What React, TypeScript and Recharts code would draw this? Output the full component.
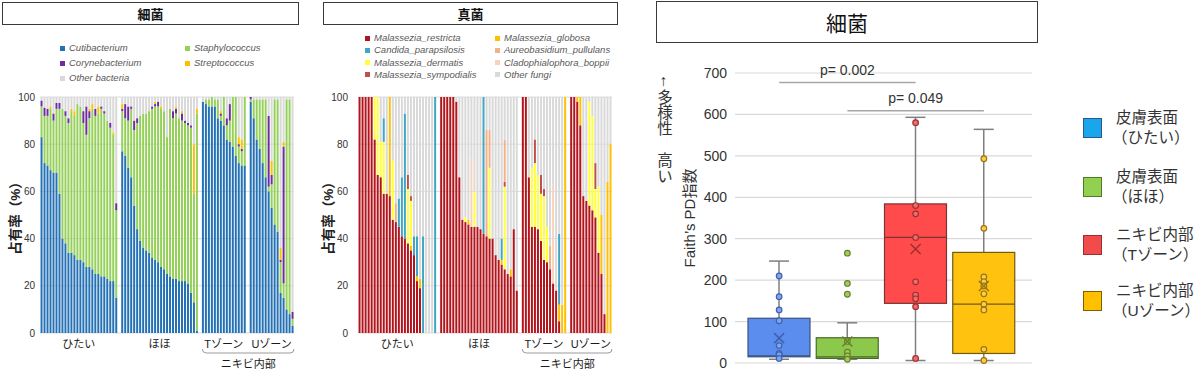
import React from "react";
import {
  Bar,
  BarChart,
  CartesianGrid,
  ComposedChart,
  Line,
  ReferenceLine,
  XAxis,
  YAxis,
} from "recharts";

const FONT = "'Liberation Sans', 'Noto Sans CJK JP', sans-serif";

const SITES = ["ひたい", "ほほ", "Tゾーン", "Uゾーン"];

// ---- bacteria composition (%), one list per site ----
const bacCutibacterium = [
  [83, 72, 71, 69, 68, 68, 59, 40, 38, 34, 34, 33, 31, 31, 30, 28, 28, 27, 25, 25, 24, 24, 23, 22, 22, 15],
  [77, 75, 70, 66, 54, 44, 39, 36, 35, 34, 32, 31, 30, 28, 27, 25, 24, 23, 23, 22, 22, 22, 21, 17, 13, 1],
  [98, 97, 96, 96, 96, 91, 90, 88, 82, 81, 79, 75, 72, 71, 71],
  [98, 91, 82, 78, 72, 66, 60, 53, 46, 43, 17, 15, 10, 8, 3],
];
const bacStaphylococcus = [
  [13, 20, 21, 26, 22, 27, 36, 55, 54, 55, 60, 59, 66, 65, 59, 56, 63, 68, 67, 68, 71, 69, 67, 65, 62, 37],
  [17, 16, 20, 29, 32, 45, 53, 57, 58, 60, 63, 65, 66, 67, 67, 58, 71, 68, 70, 69, 68, 67, 67, 70, 46, 92],
  [0, 2, 3, 4, 3, 8, 2, 12, 6, 9, 21, 25, 7, 6, 29],
  [1, 8, 17, 21, 27, 33, 2, 10, 53, 56, 13, 6, 89, 91, 3],
];
const bacCorynebacterium = [
  [2.5, 3.5, 3, 0, 3, 2.5, 2.5, 0, 2, 2, 0, 0, 0, 0, 5, 12, 3, 0, 3, 0, 1, 1, 0, 2, 0, 3],
  [1, 6, 6, 1, 4, 2, 0, 0, 0, 0, 1, 1, 2, 0, 0, 0, 0, 3, 2, 0, 3, 1, 1, 1, 0, 0],
  [0, 0, 0, 0, 0, 0, 1, 0, 3, 7, 0, 0, 1, 1, 0],
  [1, 0, 0, 0, 0, 0, 30, 4, 0, 0, 1, 58, 0, 0, 3],
];
const bacStreptococcus = [
  [0, 0, 0, 1, 0, 0, 0, 0, 0, 0, 1, 2, 0, 0, 0, 0, 1, 2, 0, 3, 0, 0, 0, 0, 1, 0],
  [2, 0, 0, 0, 0, 0, 0, 0, 0, 0, 0, 1, 0, 1, 0, 0, 0, 0, 1, 0, 1, 0, 0, 0, 21, 2],
  [0, 0, 0, 0, 0, 0, 1, 0, 0, 0, 0, 0, 3, 4, 0],
  [0, 0, 0, 0, 0, 0, 0, 6, 0, 0, 5, 2, 0, 0, 0],
];

// ---- fungi composition (%), one list per site ----
const fungRestricta = [
  [100, 100, 100, 100, 100, 82, 67, 66, 59, 59, 58, 48, 47, 45, 41, 40, 38, 35, 33, 22, 19, 0, 0, 0, 0, 0],
  [100, 100, 100, 100, 100, 98, 66, 48, 47, 46, 45, 45, 45, 44, 42, 41, 40, 40, 33, 31, 29, 27, 25, 24, 44, 18],
  [100, 100, 66, 45, 45, 44, 39, 31, 30, 27, 21, 18, 5, 0, 0],
  [100, 100, 98, 88, 58, 56, 54, 52, 49, 34, 25, 8, 0, 0],
];
const fungGlobosa = [
  [0, 0, 0, 0, 0, 0, 0, 0, 0, 0, 42, 0, 0, 0, 0, 0, 0, 2, 0, 2, 4, 0, 0, 0, 0, 0],
  [0, 0, 0, 0, 0, 0, 0, 0, 0, 2, 0, 0, 0, 0, 0, 0, 0, 0, 0, 0, 2, 0, 0, 3, 0, 0],
  [0, 0, 0, 0, 0, 0, 0, 0, 0, 0, 0, 0, 7, 12, 100],
  [0, 0, 2, 12, 0, 0, 0, 0, 0, 0, 25, 0, 64, 80],
];
const fungDermatis = [
  [0, 0, 0, 0, 0, 18, 33, 15, 22, 0, 0, 25, 0, 0, 0, 0, 23, 19, 0, 0, 0, 0, 0, 0, 0, 0],
  [0, 0, 0, 0, 0, 0, 0, 0, 2, 0, 0, 15, 0, 0, 0, 0, 30, 0, 0, 0, 0, 35, 0, 0, 0, 0],
  [0, 0, 0, 25, 27, 23, 20, 27, 15, 0, 0, 0, 0, 0, 0],
  [0, 0, 0, 0, 0, 0, 44, 40, 12, 28, 0, 0, 0, 0],
];
const fungCandida = [
  [0, 0, 0, 0, 0, 0, 0, 0, 10, 0, 0, 0, 0, 12, 25, 53, 0, 0, 8, 17, 0, 41, 0, 0, 0, 100],
  [0, 0, 0, 0, 0, 0, 0, 0, 0, 0, 0, 0, 0, 0, 58, 0, 0, 0, 0, 0, 9, 0, 0, 0, 0, 0],
  [0, 0, 0, 0, 0, 0, 0, 0, 0, 0, 0, 0, 30, 0, 0],
  [0, 0, 0, 0, 0, 0, 0, 0, 0, 0, 0, 0, 0, 0],
];
const fungSympodialis = [
  [0, 0, 0, 0, 0, 0, 0, 0, 0, 0, 0, 0, 0, 0, 0, 0, 6, 2, 0, 0, 0, 0, 0, 0, 0, 0],
  [0, 0, 0, 0, 0, 0, 0, 0, 0, 0, 0, 0, 0, 0, 0, 0, 0, 0, 0, 0, 0, 2, 0, 0, 0, 0],
  [0, 0, 0, 0, 10, 0, 8, 3, 0, 0, 0, 0, 0, 0, 0],
  [0, 0, 0, 0, 0, 0, 0, 0, 11, 0, 0, 0, 0, 0],
];
const fungAureobasidium = [
  [0, 0, 0, 0, 0, 0, 0, 0, 0, 0, 0, 0, 8, 0, 0, 0, 0, 0, 0, 0, 0, 0, 0, 0, 0, 0],
  [0, 0, 0, 0, 0, 0, 0, 0, 0, 0, 0, 0, 0, 0, 0, 45, 16, 0, 0, 0, 0, 18, 0, 0, 0, 0],
  [0, 0, 0, 0, 0, 0, 0, 0, 0, 10, 0, 0, 0, 0, 0],
  [0, 0, 0, 0, 0, 0, 0, 0, 0, 0, 0, 0, 0, 0],
];
const fungCladophialophora = [
  [0, 0, 0, 0, 0, 0, 0, 0, 0, 0, 0, 0, 0, 0, 0, 0, 0, 0, 0, 0, 0, 0, 0, 0, 0, 0],
  [0, 0, 0, 0, 0, 0, 0, 0, 0, 0, 29, 0, 0, 0, 0, 0, 0, 0, 0, 0, 0, 0, 0, 0, 0, 0],
  [0, 0, 0, 0, 0, 0, 0, 0, 0, 0, 42, 0, 0, 0, 0],
  [0, 0, 0, 0, 0, 0, 0, 0, 0, 0, 0, 0, 0, 0],
];

// ---- Faith's PD (bacteria) box plot ----
const pdGroups = ["皮膚表面（ひたい）", "皮膚表面（ほほ）", "ニキビ内部（Tゾーン）", "ニキビ内部（Uゾーン）"];
const pdMin = [9, 9, 6, 6];
const pdQ1 = [15, 11, 144, 23];
const pdMedian = [17, 15, 303, 142];
const pdQ3 = [108, 61, 384, 267];
const pdMax = [246, 97, 593, 564];
const pdMean = [60, 52, 275, 186];
const pdPoints = [
  [210, 160, 128, 102, 42, 23, 20, 11],
  [265, 192, 166, 52, 26, 17, 9],
  [580, 380, 360, 303, 196, 164, 155, 136, 11],
  [493, 325, 208, 196, 186, 167, 142, 128, 33, 6],
];
const pdTests = [
  { from: 0, to: 2, level: 677, p: "p= 0.002" },
  { from: 1, to: 3, level: 609, p: "p= 0.049" },
];

const BAC_SERIES = [
  { key: "cuti", name: "Cutibacterium", values: bacCutibacterium, color: "#2471B5" },
  { key: "staph", name: "Staphylococcus", values: bacStaphylococcus, color: "#95D05A" },
  { key: "coryne", name: "Corynebacterium", values: bacCorynebacterium, color: "#6E2C9E" },
  { key: "strep", name: "Streptococcus", values: bacStreptococcus, color: "#FFC000" },
];
const BAC_LEGEND = [
  [BAC_SERIES[0], BAC_SERIES[1]],
  [BAC_SERIES[2], BAC_SERIES[3]],
  [{ name: "Other bacteria", color: "#D9D9D9" }],
];

const FUNG = {
  restricta: { key: "restricta", name: "Malassezia_restricta", values: fungRestricta, color: "#B3141C" },
  globosa: { key: "globosa", name: "Malassezia_globosa", values: fungGlobosa, color: "#FFC000" },
  dermatis: { key: "dermatis", name: "Malassezia_dermatis", values: fungDermatis, color: "#FFFF3C" },
  candida: { key: "candida", name: "Candida_parapsilosis", values: fungCandida, color: "#41A6C4" },
  sympodialis: { key: "sympodialis", name: "Malassezia_sympodialis", values: fungSympodialis, color: "#C0504D" },
  aureo: { key: "aureo", name: "Aureobasidium_pullulans", values: fungAureobasidium, color: "#F4B183" },
  clado: { key: "clado", name: "Cladophialophora_boppii", values: fungCladophialophora, color: "#F8D3BC" },
};
// stacking order, bottom to top
const FUNG_SERIES = [FUNG.restricta, FUNG.globosa, FUNG.dermatis, FUNG.candida, FUNG.sympodialis, FUNG.aureo, FUNG.clado];
const FUNG_LEGEND = [
  [FUNG.restricta, FUNG.globosa],
  [FUNG.candida, FUNG.aureo],
  [FUNG.dermatis, FUNG.clado],
  [FUNG.sympodialis, { name: "Other fungi", color: "#D9D9D9" }],
];

const BOX_STYLE = [
  { fill: "#5B8DEE", line: "#3C527E", dot: "#7FA5F0", dotStroke: "#3E62B0", legend: "#1AA6EA", legendStroke: "#2F5597" },
  { fill: "#8BC84B", line: "#4B6B2B", dot: "#9ED061", dotStroke: "#6B7F2A", legend: "#92D050", legendStroke: "#4F7A28" },
  { fill: "#FF4B4B", line: "#7A3434", dot: "#F06B6B", dotStroke: "#9E2F2F", legend: "#F24B4B", legendStroke: "#9E2F2F" },
  { fill: "#FFC20E", line: "#6E5A14", dot: "#F8CF4A", dotStroke: "#9A7414", legend: "#FFC000", legendStroke: "#7F6000" },
];

function buildRows(series: { key: string; values: number[][] }[]) {
  const rows: any[] = [];
  const nSites = series[0].values.length;
  for (let s = 0; s < nSites; s++) {
    if (s > 0) rows.push({ id: `gap-${s}` });
    const n = series[0].values[s].length;
    for (let i = 0; i < n; i++) {
      const row: any = { id: `${s}-${i}` };
      let sum = 0;
      series.forEach(({ key, values }) => {
        const v = values[s][i] ?? 0;
        row[key] = v;
        sum += v;
      });
      row.other = Math.max(0, 100 - sum);
      if (i === Math.floor((n - 1) / 2)) {
        row.label = SITES[s];
        row.shift = n % 2 === 0 ? 0.5 : 0;
      }
      if (s === 2 && i === 0) row.braceStart = true;
      rows.push(row);
    }
  }
  return rows;
}

const bacRows = buildRows(BAC_SERIES);
const fungRows = buildRows(FUNG_SERIES);

const COMP_W = 300;
const COMP_H = 371;
const COMP_TOP = 97;
const COMP_XAXIS_H = 38;

function TitleBox({ left, top, width, height, text, size }: any) {
  return (
    <div
      style={{
        position: "absolute",
        left,
        top,
        width,
        height,
        boxSizing: "border-box",
        border: "1.5px solid #3a3a3a",
        display: "flex",
        alignItems: "center",
        justifyContent: "center",
        fontSize: size,
        fontWeight: size < 16 ? "bold" : "normal",
        color: "#111",
      }}
    >
      {text}
    </div>
  );
}

function SmallLegend({ rows, left, top, rowGap, colGap }: any) {
  return (
    <div style={{ position: "absolute", left, top }}>
      {rows.map((r: any[], ri: number) =>
        r.map((it: any, ci: number) => (
          <div
            key={`${ri}-${ci}`}
            style={{
              position: "absolute",
              left: ci * colGap,
              top: ri * rowGap,
              display: "flex",
              alignItems: "center",
              whiteSpace: "nowrap",
              fontSize: 9.5,
              fontStyle: "italic",
              color: "#595959",
              lineHeight: "12px",
            }}
          >
            <span style={{ width: 5, height: 5, background: it.color, marginRight: 4, display: "inline-block" }} />
            {it.name}
          </div>
        ))
      )}
    </div>
  );
}

function CompositionPanel({ rows, series, left, tickMargin, labelOffset, marginRight }: any) {
  const plotW = COMP_W - 40 - marginRight;
  const slot = plotW / rows.length;
  const braceIdx = rows.findIndex((r: any) => r.braceStart);
  const braceX0 = 40 + braceIdx * slot + 1;
  const braceX1 = 40 + plotW;
  const baseY = COMP_H - COMP_XAXIS_H;

  const renderTick = (props: any) => {
    const { x, y, index } = props;
    const row = rows[index];
    if (!row || !row.label) return <g />;
    return (
      <text x={x + row.shift * slot} y={y + 13} textAnchor="middle" fontSize={11} fill="#1a1a1a">
        {row.label}
      </text>
    );
  };

  return (
    <div style={{ position: "absolute", left, top: 0 }}>
      <BarChart
        width={COMP_W}
        height={COMP_H}
        data={rows}
        margin={{ top: COMP_TOP, right: marginRight, left: 0, bottom: 0 }}
        barCategoryGap="18%"
      >
        <CartesianGrid vertical={false} stroke="#dcdcdc" />
        <XAxis
          dataKey="id"
          interval={0}
          tickLine={false}
          axisLine={false}
          tickSize={0}
          height={COMP_XAXIS_H}
          tick={renderTick}
        />
        <YAxis
          domain={[0, 100]}
          ticks={[0, 20, 40, 60, 80, 100]}
          width={40}
          tickLine={false}
          axisLine={false}
          tickSize={0}
          tickMargin={tickMargin}
          tick={{ fontSize: 10, fill: "#333" }}
          label={{
            value: "占有率（%）",
            angle: -90,
            position: "insideLeft",
            offset: labelOffset,
            style: { textAnchor: "middle", fontSize: 13.5, fontWeight: "bold", fill: "#222" },
          }}
        />
        {series.map((s: any) => (
          <Bar key={s.key} dataKey={s.key} stackId="a" fill={s.color} isAnimationActive={false} />
        ))}
        <Bar dataKey="other" stackId="a" fill="#D9D9D9" isAnimationActive={false} />
      </BarChart>
      <svg width={COMP_W} height={COMP_H} style={{ position: "absolute", left: 0, top: 0, pointerEvents: "none" }}>
        <path
          d={`M ${braceX0} ${baseY + 16} Q ${braceX0} ${baseY + 20} ${braceX0 + 4} ${baseY + 20} L ${braceX1 - 4} ${baseY + 20} Q ${braceX1} ${baseY + 20} ${braceX1} ${baseY + 16}`}
          fill="none"
          stroke="#9a9a9a"
          strokeWidth={1}
        />
        <text x={(braceX0 + braceX1) / 2} y={baseY + 35} textAnchor="middle" fontSize={11} fill="#1a1a1a">
          ニキビ内部
        </text>
      </svg>
    </div>
  );
}

const pdRows = pdGroups.map((g, i) => {
  const row: any = {
    g,
    idx: i,
    range: [pdMin[i], pdMax[i]],
    min: pdMin[i],
    q1: pdQ1[i],
    median: pdMedian[i],
    q3: pdQ3[i],
    max: pdMax[i],
    mean: pdMean[i],
  };
  pdPoints[i].forEach((v, k) => {
    row[`p${k}`] = v;
  });
  return row;
});
const maxPoints = Math.max(...pdPoints.map((p) => p.length));

function BoxShape(props: any) {
  const { x, y, width, height, payload } = props;
  if (!payload) return <g />;
  const top = Math.min(y, y + height);
  const h = Math.abs(height);
  const ppu = h / (payload.max - payload.min);
  const py = (v: number) => top + (payload.max - v) * ppu;
  const cx = x + width / 2;
  const st = BOX_STYLE[payload.idx];
  return (
    <g>
      <line x1={cx} x2={cx} y1={py(payload.max)} y2={py(payload.q3)} stroke="#7f7f7f" strokeWidth={1.5} />
      <line x1={cx} x2={cx} y1={py(payload.q1)} y2={py(payload.min)} stroke="#7f7f7f" strokeWidth={1.5} />
      <line x1={cx - 10} x2={cx + 10} y1={py(payload.max)} y2={py(payload.max)} stroke="#7f7f7f" strokeWidth={1.5} />
      <line x1={cx - 10} x2={cx + 10} y1={py(payload.min)} y2={py(payload.min)} stroke="#7f7f7f" strokeWidth={1.5} />
      <rect
        x={x}
        y={py(payload.q3)}
        width={width}
        height={py(payload.q1) - py(payload.q3)}
        fill={st.fill}
        stroke={st.line}
        strokeWidth={1.2}
      />
      <line x1={x} x2={x + width} y1={py(payload.median)} y2={py(payload.median)} stroke={st.line} strokeWidth={1.2} />
    </g>
  );
}

const renderPoint = (props: any) => {
  const { cx, cy, payload, index } = props;
  const k = `pt-${index}-${cx}-${cy}`;
  if (cx == null || cy == null || Number.isNaN(cy)) return <g key={k} />;
  const st = BOX_STYLE[payload.idx];
  return <circle key={k} cx={cx} cy={cy} r={2.8} fill={st.dot} stroke={st.dotStroke} strokeWidth={1.2} />;
};

const renderMean = (props: any) => {
  const { cx, cy, payload, index } = props;
  const k = `mean-${index}`;
  if (cx == null || cy == null || Number.isNaN(cy)) return <g key={k} />;
  const st = BOX_STYLE[payload.idx];
  const d = 5;
  return (
    <g key={k} stroke={st.dotStroke} strokeWidth={1.5}>
      <line x1={cx - d} y1={cy - d} x2={cx + d} y2={cy + d} />
      <line x1={cx - d} y1={cy + d} x2={cx + d} y2={cy - d} />
    </g>
  );
};

function DiversityPanel() {
  return (
    <div style={{ position: "absolute", left: 620, top: 0 }}>
      <ComposedChart
        width={440}
        height={371}
        data={pdRows}
        margin={{ top: 73, right: 28, left: 70, bottom: 8 }}
      >
        <CartesianGrid vertical={false} stroke="#d9d9d9" strokeWidth={1.2} />
        <XAxis dataKey="g" hide padding={{ left: 10, right: 14 }} />
        <YAxis
          domain={[0, 700]}
          ticks={[0, 100, 200, 300, 400, 500, 600, 700]}
          width={45}
          tickLine={false}
          axisLine={false}
          tickSize={0}
          tickMargin={8}
          tick={{ fontSize: 14, fill: "#333" }}
          label={{
            value: "Faith’s PD指数",
            angle: -90,
            position: "insideLeft",
            offset: 0,
            style: { textAnchor: "middle", fontSize: 15, fill: "#333" },
          }}
        />
        <Bar dataKey="range" barSize={62} shape={BoxShape} isAnimationActive={false} />
        {Array.from({ length: maxPoints }, (_, k) => (
          <Line
            key={k}
            dataKey={`p${k}`}
            stroke="none"
            dot={renderPoint}
            activeDot={false}
            legendType="none"
            isAnimationActive={false}
          />
        ))}
        <Line dataKey="mean" stroke="none" dot={renderMean} activeDot={false} legendType="none" isAnimationActive={false} />
        {pdTests.map((t) => (
          <ReferenceLine
            key={t.p}
            segment={[
              { x: pdGroups[t.from], y: t.level },
              { x: pdGroups[t.to], y: t.level },
            ]}
            stroke="#a6a6a6"
            strokeWidth={1.5}
            ifOverflow="visible"
            label={{ value: t.p, position: "top", offset: 8, fontSize: 14, fill: "#333" }}
          />
        ))}
      </ComposedChart>
      <div
        style={{
          position: "absolute",
          left: 35,
          top: 72,
          writingMode: "vertical-rl",
          textOrientation: "upright",
          fontSize: 15.5,
          lineHeight: "16px",
          color: "#333",
          letterSpacing: 0,
        }}
      >
        ↑多様性 高い
      </div>
    </div>
  );
}

const legendCenters = [128, 187, 245, 301];

function DiversityLegend() {
  return (
    <div>
      {pdGroups.map((g, i) => {
        const st = BOX_STYLE[i];
        const cut = g.indexOf("（");
        return (
          <div
            key={g}
            style={{
              position: "absolute",
              left: 1083,
              top: legendCenters[i] - 20,
              height: 40,
              display: "flex",
              alignItems: "center",
            }}
          >
            <div
              style={{
                width: 19,
                height: 20,
                boxSizing: "border-box",
                background: st.legend,
                border: `1px solid ${st.legendStroke}`,
                marginRight: 14,
              }}
            />
            <div style={{ fontSize: 15.5, lineHeight: "20px", color: "#333" }}>
              <div>{g.slice(0, cut)}</div>
              <div style={{ marginLeft: -4 }}>{g.slice(cut)}</div>
            </div>
          </div>
        );
      })}
    </div>
  );
}

export default function App() {
  return (
    <div
      style={{
        position: "absolute",
        left: 0,
        top: 0,
        width: 1200,
        height: 371,
        background: "#fff",
        fontFamily: FONT,
        overflow: "hidden",
      }}
    >
      <TitleBox left={2} top={2} width={297} height={23} text="細菌" size={13} />
      <TitleBox left={323} top={2} width={295} height={23} text="真菌" size={13} />
      <TitleBox left={656} top={1} width={382} height={42} text="細菌" size={21} />

      <SmallLegend rows={BAC_LEGEND} left={60} top={42} rowGap={15} colGap={125} />
      <SmallLegend rows={FUNG_LEGEND} left={365} top={32} rowGap={12.3} colGap={130} />

      <CompositionPanel rows={bacRows} series={BAC_SERIES} left={0} tickMargin={5} labelOffset={15} marginRight={6} />
      <CompositionPanel rows={fungRows} series={FUNG_SERIES} left={318} tickMargin={10} labelOffset={10} marginRight={6} />

      <DiversityPanel />
      <DiversityLegend />
    </div>
  );
}
